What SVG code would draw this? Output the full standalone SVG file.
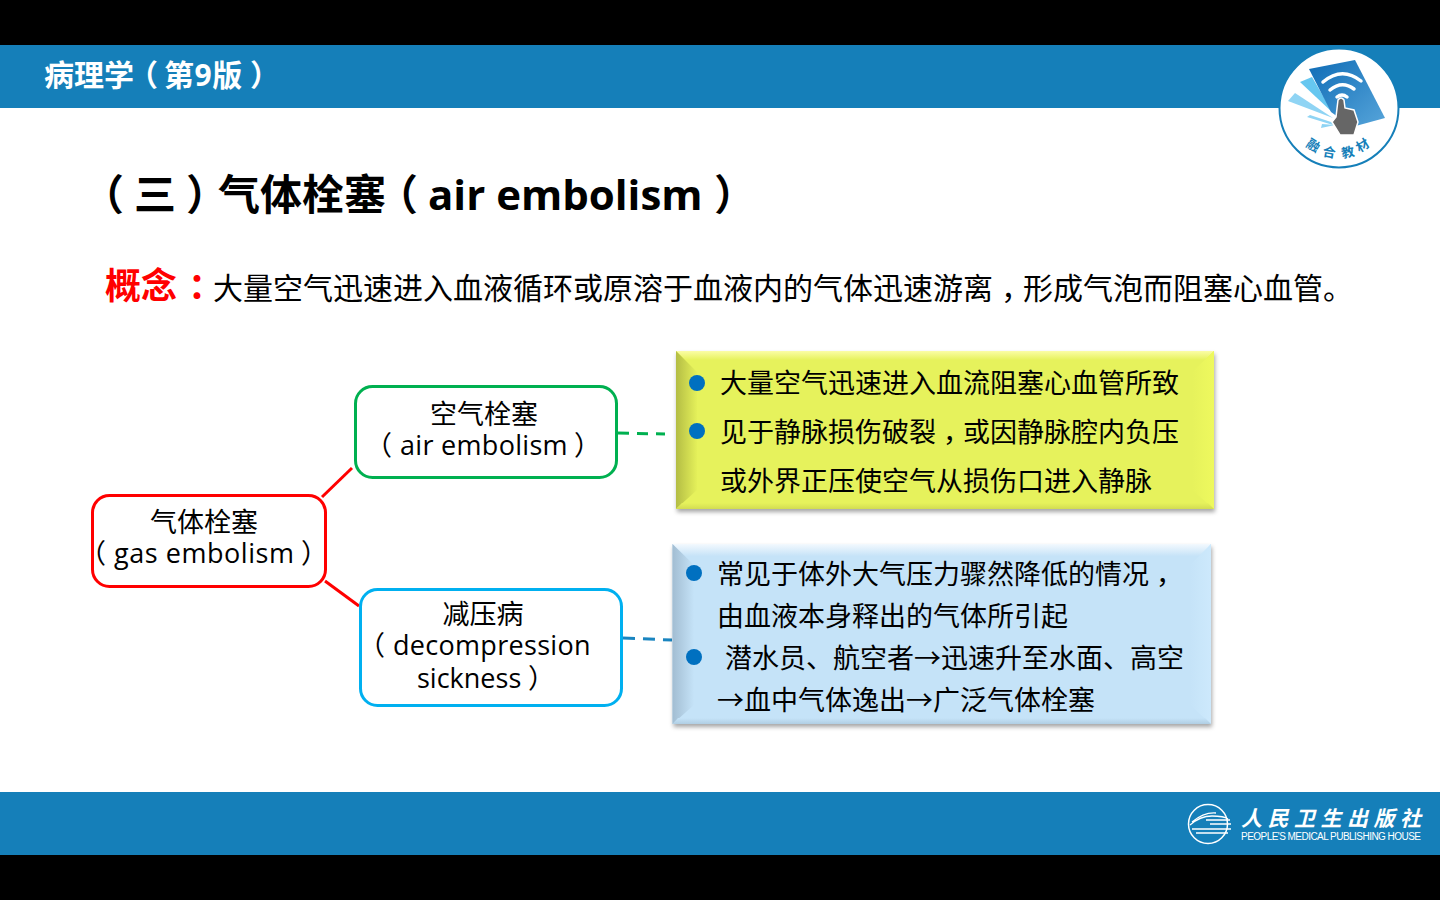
<svg xmlns="http://www.w3.org/2000/svg" width="1440" height="900" viewBox="0 0 1440 900">
<style>
text{font-family:"Open Sans","Noto Sans CJK SC",sans-serif;fill:#000}
.b{font-weight:700}
.n{fill:#fff;stroke-width:3}
.c{text-anchor:middle;font-size:27px}
.m{font-size:27px}
.l{font-size:27px}
.bullet{fill:#0070c0}
.conn{fill:none;stroke-width:3}
</style>
<defs>
<linearGradient id="yl" x1="0" x2="1" y1="0" y2="0"><stop offset="0" stop-color="#b4bd44"/><stop offset="1" stop-color="#e4f05a"/></linearGradient>
<linearGradient id="yb" x1="0" x2="0" y1="0" y2="1"><stop offset="0" stop-color="#e6f25c"/><stop offset="1" stop-color="#d2dc52"/></linearGradient>
<linearGradient id="yt" x1="0" x2="0" y1="0" y2="1"><stop offset="0" stop-color="#fbfda6"/><stop offset="1" stop-color="#e6f25c"/></linearGradient>
<linearGradient id="yr" x1="0" x2="1" y1="0" y2="0"><stop offset="0" stop-color="#e6f25c"/><stop offset="1" stop-color="#eef95e"/></linearGradient>
<linearGradient id="bl" x1="0" x2="1" y1="0" y2="0"><stop offset="0" stop-color="#a2bdd2"/><stop offset="1" stop-color="#c5e3f8"/></linearGradient>
<linearGradient id="bb" x1="0" x2="0" y1="0" y2="1"><stop offset="0" stop-color="#c5e3f8"/><stop offset="1" stop-color="#b0cee3"/></linearGradient>
<linearGradient id="bt" x1="0" x2="0" y1="0" y2="1"><stop offset="0" stop-color="#f3f9fe"/><stop offset="1" stop-color="#c6e3f8"/></linearGradient>
<linearGradient id="br" x1="0" x2="1" y1="0" y2="0"><stop offset="0" stop-color="#c5e3f8"/><stop offset="1" stop-color="#cde9fc"/></linearGradient>
<linearGradient id="card" x1="0" x2="1" y1="0" y2="1"><stop offset="0" stop-color="#0f6cb6"/><stop offset="1" stop-color="#57a5da"/></linearGradient>
</defs>
<rect width="1440" height="900" fill="#fff"/>
<rect width="1440" height="45" fill="#000"/>
<rect y="855" width="1440" height="45" fill="#000"/>
<rect y="45" width="1440" height="63" fill="#157fb9"/>
<rect y="792" width="1440" height="63" fill="#157fb9"/>
<text y="86" font-size="30" class="b" style="fill:#fff"><tspan x="44">病理学</tspan><tspan x="128">（</tspan><tspan x="164" letter-spacing=".6">第9版</tspan><tspan x="250">）</tspan></text>

<g id="logo-top">
<circle cx="1339" cy="108" r="59.500" fill="#fff" stroke="#157fb9" stroke-width="2"/>
<polygon points="1288,101 1295,93 1333,118" fill="#8fd4f4"/>
<polygon points="1300,82 1312,77 1333,113" fill="#66c7f0"/>
<polygon points="1307,117 1310,115 1334,123 1333,125" fill="#8fd4f4"/>
<polygon points="1321,128 1322,124 1335,125" fill="#8fd4f4"/>
<polygon points="1309,69 1355,60 1385,118 1352,127 1331,112" fill="url(#card)"/>
<path d="M1323,82Q1342,66 1361,81M1330,90Q1342,80 1354,89M1337,97Q1342,93 1347,97" fill="none" stroke="#fff" stroke-width="3.500" stroke-linecap="round"/>
<path d="M1338,100Q1341,96 1344,100L1345,108L1354,110L1358,122L1354,135H1340L1332,122L1336,117Z" fill="#666" stroke="#fff" stroke-width="1.500"/>
<g class="b" font-size="13">
<text x="1313" y="150" transform="rotate(32 1313 146)" style="fill:#157fb9;text-anchor:middle">融</text>
<text x="1329" y="157" transform="rotate(10 1329 153)" style="fill:#157fb9;text-anchor:middle">合</text>
<text x="1348" y="157" transform="rotate(-12 1348 153)" style="fill:#157fb9;text-anchor:middle">教</text>
<text x="1363" y="150" transform="rotate(-32 1363 146)" style="fill:#157fb9;text-anchor:middle">材</text>
</g>
</g>

<g id="logo-bottom">
<circle cx="1208" cy="824" r="19.500" fill="none" stroke="#fff" stroke-width="1.500"/>
<path d="M1190,825Q1200,816 1212,816T1228,819M1192,822Q1204,812 1216,813M1192,829H1231M1196,833H1228M1206,820H1230M1210,824H1231" fill="none" stroke="#fff" stroke-width="1.300"/>
<text x="1241" y="826" font-size="21" class="b" style="fill:#fff;font-style:italic" textLength="180">人民卫生出版社</text>
<text x="1241" y="840" font-size="10" style="fill:#fff;font-family:'Liberation Sans',sans-serif" textLength="180">PEOPLE'S MEDICAL PUBLISHING HOUSE</text>
</g>

<text y="210" font-size="42" class="b"><tspan x="82">（</tspan><tspan x="134">三</tspan><tspan x="186">）</tspan><tspan x="218">气体栓塞</tspan><tspan x="376">（</tspan><tspan x="428">air embolism</tspan><tspan x="714">）</tspan></text>
<text y="299" font-size="36" class="b" style="fill:#f00"><tspan x="105">概念</tspan><tspan x="188">：</tspan></text>
<text y="299" font-size="30"><tspan x="213">大量空气迅速进入血液循环或原溶于血液内的气体迅速游离</tspan><tspan x="1001">，</tspan><tspan x="1023">形成气泡而阻塞心血管。</tspan></text>

<g id="connectors">
<path class="conn" d="M322,497L352,468" stroke="#f00"/>
<path class="conn" d="M325,581L359,606" stroke="#f00"/>
<path class="conn" d="M618,433L665,434" stroke="#00b050" stroke-dasharray="11 8"/>
<path class="conn" d="M623,638L672,640" stroke="#1a85c0" stroke-dasharray="12 8"/>
</g>

<g id="node-gas">
<rect class="n" x="92.500" y="495.500" width="233" height="91" rx="17" stroke="#f00"/>
<text class="c" x="204" y="532">气体栓塞</text>
<text class="m" y="563"><tspan x="79">（</tspan><tspan x="114" letter-spacing=".55">gas embolism</tspan><tspan x="301">）</tspan></text>
</g>
<g id="node-air">
<rect class="n" x="355.500" y="386.500" width="261" height="91" rx="17" stroke="#00b050"/>
<text class="c" x="484" y="424">空气栓塞</text>
<text class="m" y="455"><tspan x="365">（</tspan><tspan x="400" letter-spacing=".3">air embolism</tspan><tspan x="574">）</tspan></text>
</g>
<g id="node-dec">
<rect class="n" x="360.500" y="589.500" width="261" height="116" rx="17" stroke="#00b0f0"/>
<text class="c" x="483" y="624">减压病</text>
<text class="m" y="655"><tspan x="358">（</tspan><tspan x="393" letter-spacing=".3">decompression</tspan></text>
<text class="m" y="688"><tspan x="417">sickness</tspan><tspan x="528">）</tspan></text>
</g>

<g id="note-yellow">
<rect x="676" y="351" width="538" height="158" fill="#e6f25c" style="filter:drop-shadow(1px 3px 2px rgba(0,0,0,.35))"/>
<polygon points="676,351 1214,351 1205,360 685,360" fill="url(#yt)"/>
<polygon points="676,351 697,372 697,490 676,509" fill="url(#yl)"/>
<polygon points="1214,351 1192,372 1192,490 1214,509" fill="url(#yr)"/>
<polygon points="676,509 682,503 1208,503 1214,509" fill="url(#yb)"/>
<circle class="bullet" cx="697" cy="383" r="8"/>
<circle class="bullet" cx="697" cy="431" r="8"/>
<text class="l" x="720" y="393">大量空气迅速进入血流阻塞心血管所致</text>
<text class="l" y="442"><tspan x="720">见于静脉损伤破裂</tspan><tspan x="943">，</tspan><tspan x="963">或因静脉腔内负压</tspan></text>
<text class="l" x="720" y="491">或外界正压使空气从损伤口进入静脉</text>
</g>

<g id="note-blue">
<rect x="672.500" y="544" width="538.500" height="180" fill="#c5e3f8" style="filter:drop-shadow(1px 3px 2px rgba(0,0,0,.35))"/>
<polygon points="672.500,544 1211,544 1201,556 683,556" fill="url(#bt)"/>
<polygon points="672.500,544 694,565 694,705 672.500,724" fill="url(#bl)"/>
<polygon points="1211,544 1190,565 1190,705 1211,724" fill="url(#br)"/>
<polygon points="672.500,724 678,718 1205,718 1211,724" fill="url(#bb)"/>
<circle class="bullet" cx="694" cy="573" r="8"/>
<circle class="bullet" cx="694" cy="657" r="8"/>
<text class="l" y="584"><tspan x="717">常见于体外大气压力骤然降低的情况</tspan><tspan x="1156">，</tspan></text>
<text class="l" x="717" y="626">由血液本身释出的气体所引起</text>
<text class="l" x="725" y="668">潜水员、航空者→迅速升至水面、高空</text>
<text class="l" x="717" y="710">→血中气体逸出→广泛气体栓塞</text>
</g>
</svg>
